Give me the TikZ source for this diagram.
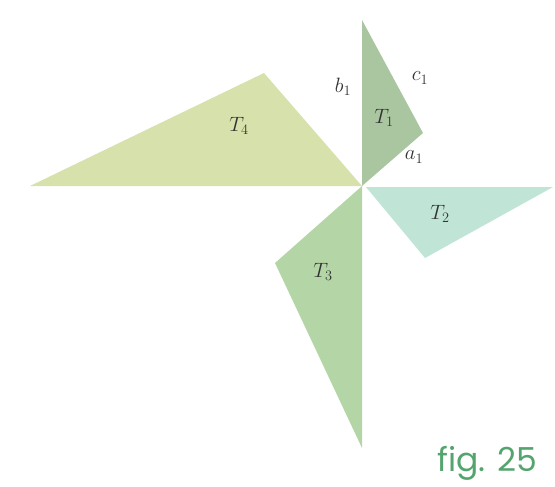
\documentclass[tikz,border=0pt]{standalone}
\usepackage{fontspec}
\newfontfamily\figfont{Poppins}
\definecolor{cT1}{RGB}{170,198,160}
\definecolor{cT2}{RGB}{192,228,214}
\definecolor{cT3}{RGB}{180,214,166}
\definecolor{cT4}{RGB}{214,225,172}
\definecolor{cfig}{RGB}{84,164,110}
\begin{document}
\begin{tikzpicture}[x=1pt,y=-1pt,
  lbl/.style={text=black!80,font=\fontsize{20}{24}\selectfont,inner sep=0pt}]
\useasboundingbox (0,0) rectangle (555,487);
\coordinate (O) at (362,186);
% T4
\fill[cT4] (O) -- (30,186) -- (264,73) -- cycle;
% T1
\fill[cT1] (O) -- (362,20) -- (423,133) -- cycle;
% T2
\fill[cT2] (366,187) -- (553,187) -- (425,258) -- cycle;
% T3
\fill[cT3] (O) -- (275,263) -- (362,448) -- cycle;
\node[lbl] (b1) at (343,87) {$b_1$};
\node[lbl] (c1) at (420,78) {$c_1$};
\node[lbl] (t1) at (384,118) {$T_1$};
\node[lbl] (a1) at (414,157) {$a_1$};
\node[lbl] (t4) at (239,126) {$T_4$};
\node[lbl] (t2) at (440,214) {$T_2$};
\node[lbl] (t3) at (323,272) {$T_3$};
\node[text=cfig,font=\figfont\fontsize{33}{36}\selectfont,inner sep=0pt] (fig) at (487,463) {fig. 25};
\end{tikzpicture}
\end{document}
